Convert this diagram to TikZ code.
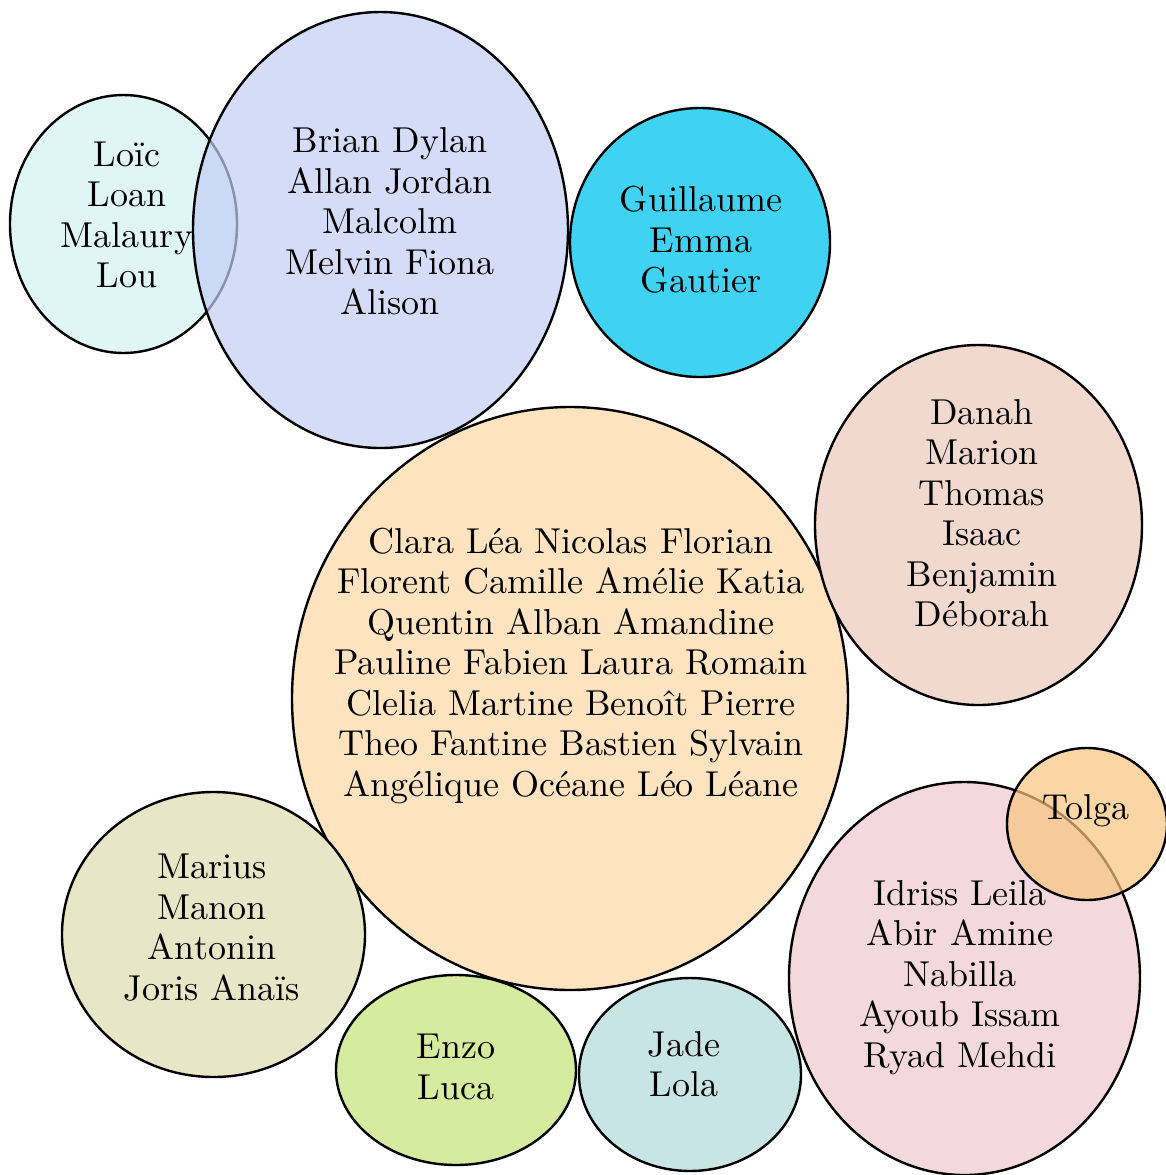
\documentclass[tikz,border=0pt]{standalone}
\usepackage{fontspec}
\newfontfamily\nomsfont{lmroman10-regular.otf}
\definecolor{loicC}{HTML}{E0F6F6}
\definecolor{brianC}{HTML}{C2CDF5}
\definecolor{guilC}{HTML}{40D2F2}
\definecolor{claraC}{HTML}{FDE3C0}
\definecolor{danahC}{HTML}{F1D9CF}
\definecolor{tolgaC}{HTML}{FAC57F}
\definecolor{idrissC}{HTML}{F3D9DD}
\definecolor{mariusC}{HTML}{E7E6C6}
\definecolor{enzoC}{HTML}{D5EB9F}
\definecolor{jadeC}{HTML}{C9E4E5}
\tikzset{
  bulle/.style={draw=black, line width=1.2pt},
  dessus/.style={bulle, fill opacity=0.7},
  noms/.style={align=center, font=\nomsfont\fontsize{18}{20.25}\selectfont, inner sep=0pt}
}
\begin{document}
\begin{tikzpicture}[x=0.5pt,y=-0.5pt]
  \useasboundingbox (0,0) rectangle (1166,1175);
  % groupes du haut
  \draw[bulle, fill=loicC] (123.5,224) ellipse [x radius=113.5, y radius=129];
  \draw[dessus, fill=brianC] (380.5,230) ellipse [x radius=187.5, y radius=218];
  \draw[bulle, fill=guilC] (700,242.5) ellipse [x radius=130, y radius=134.5];
  \node[noms] (loic) at (127,215) {Loïc\\Loan\\Malaury\\Lou};
  \node[noms] (brian) at (390,221.5) {Brian Dylan\\Allan Jordan\\Malcolm\\Melvin Fiona\\Alison};
  \node[noms] (guillaume) at (701,240) {Guillaume\\Emma\\Gautier};
  % grand groupe
  \draw[bulle, fill=claraC] (570,698.5) ellipse [x radius=278, y radius=291.5];
  \node[noms] (clara) at (571,666) {Clara Léa Nicolas Florian\\Florent Camille Amélie Katia\\Quentin Alban Amandine\\Pauline Fabien Laura Romain\\Clelia Martine Benoît Pierre\\Theo Fantine Bastien Sylvain\\Angélique Océane Léo Léane};
  \draw[bulle, fill=danahC] (978.5,525) ellipse [x radius=163.5, y radius=180];
  \node[noms] (danah) at (982,513) {Danah\\Marion\\Thomas\\Isaac\\Benjamin\\Déborah};
  % groupes du bas
  \draw[bulle, fill=idrissC] (964.5,978.5) ellipse [x radius=175.5, y radius=196.5];
  \draw[dessus, fill=tolgaC] (1087,824) ellipse [x radius=80, y radius=76];
  \node[noms] (idriss) at (960,977.5) {Idriss Leila\\Abir Amine\\Nabilla\\Ayoub Issam\\Ryad Mehdi};
  \node[noms] (tolga) at (1086,811) {Tolga};
  \draw[bulle, fill=mariusC] (213.5,934.5) ellipse [x radius=151.5, y radius=142.5];
  \draw[bulle, fill=enzoC] (456,1070) ellipse [x radius=120, y radius=95];
  \draw[bulle, fill=jadeC] (690,1074.5) ellipse [x radius=111, y radius=96.5];
  \node[noms] (marius) at (212,927.5) {Marius\\Manon\\Antonin\\Joris Anaïs};
  \node[noms] (enzo) at (456,1067) {Enzo\\Luca};
  \node[noms] (jade) at (684,1064) {Jade\\Lola};
\end{tikzpicture}
\end{document}
